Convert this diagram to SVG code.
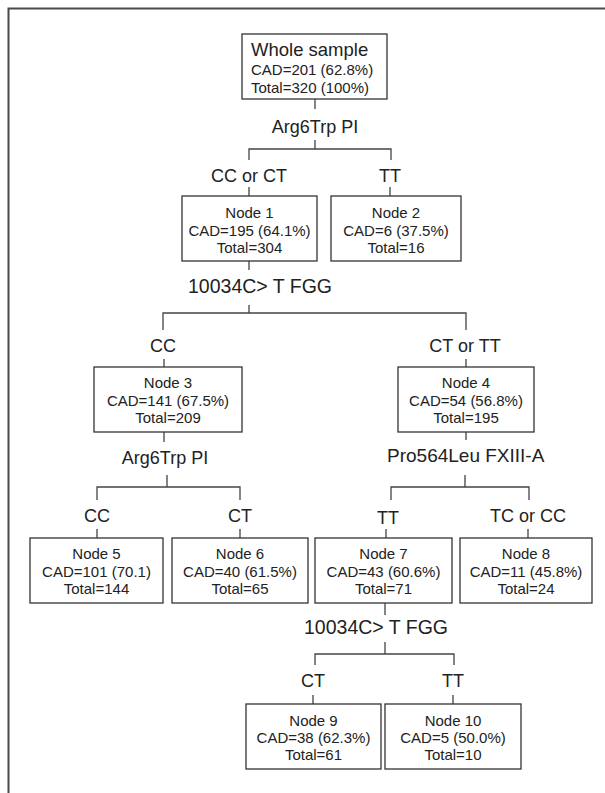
<svg xmlns="http://www.w3.org/2000/svg" width="605" height="793" viewBox="0 0 605 793">
<style>
.box{fill:#fff;stroke:#333;stroke-width:1.3}
.ln{fill:none;stroke:#444;stroke-width:1.3}
.t{font-family:"Liberation Sans",Arial,sans-serif;font-size:15px;fill:#222;text-anchor:middle}
.lab{font-family:"Liberation Sans",Arial,sans-serif;font-size:18px;fill:#222;text-anchor:middle}
.wide{font-size:19.5px;text-anchor:start}
.big{font-family:"Liberation Sans",Arial,sans-serif;font-size:18.5px;fill:#222}
.frame{fill:none;stroke:#4a4a4a;stroke-width:2}
</style>
<rect width="605" height="793" fill="#fff"/>
<path class="frame" d="M8.5,793 V8.5 H605"/>

<g id="connectors">
  <path class="ln" d="M315,99 V109 M315,140 V149 M249,160 V149 H391 V160 M249,187 V196 M390,187 V196"/>
  <path class="ln" d="M249,261 V270 M249,305 V313 M163,330 V313 H466 V330 M164,359 V367 M466,359 V367"/>
  <path class="ln" d="M164,432 V442 M167,475 V487 M97,500 V487 H240 V500 M97,529 V538 M240,529 V538"/>
  <path class="ln" d="M466,432 V440 M465,475 V487 M391,500 V487 H529 V500 M386,529 V538 M528,529 V538"/>
  <path class="ln" d="M385,603 V615 M385,642 V654 M315,665 V654 H454 V665 M313,695 V704 M453,695 V704"/>
</g>

<g id="labels">
  <text class="lab" x="315" y="133">Arg6Trp PI</text>
  <text class="lab" x="249" y="182">CC or CT</text>
  <text class="lab" x="390" y="182">TT</text>
  <text class="lab wide" x="188" y="293">10034C&gt; T FGG</text>
  <text class="lab" x="163" y="352">CC</text>
  <text class="lab" x="465" y="352">CT or TT</text>
  <text class="lab" x="165" y="464">Arg6Trp PI</text>
  <text class="lab wide" x="387" y="462" style="font-size:19px">Pro564Leu FXIII-A</text>
  <text class="lab" x="97" y="522">CC</text>
  <text class="lab" x="240" y="522">CT</text>
  <text class="lab" x="388" y="524">TT</text>
  <text class="lab" x="528" y="522">TC or CC</text>
  <text class="lab wide" x="304" y="634">10034C&gt; T FGG</text>
  <text class="lab" x="313" y="687">CT</text>
  <text class="lab" x="453" y="687">TT</text>
</g>

<g id="root">
  <rect class="box" x="242" y="34" width="145" height="65"/>
  <text class="big" x="251" y="56">Whole sample</text>
  <text class="t" x="251" y="75" style="text-anchor:start">CAD=201 (62.8%)</text>
  <text class="t" x="251" y="93" style="text-anchor:start">Total=320 (100%)</text>
</g>

<g id="node1">
  <rect class="box" x="182" y="196" width="135" height="65"/>
  <text class="t" x="249.5" y="218">Node 1</text>
  <text class="t" x="249.5" y="236">CAD=195 (64.1%)</text>
  <text class="t" x="249.5" y="253">Total=304</text>
</g>
<g id="node2">
  <rect class="box" x="331" y="196" width="130" height="65"/>
  <text class="t" x="396" y="218">Node 2</text>
  <text class="t" x="396" y="236">CAD=6 (37.5%)</text>
  <text class="t" x="396" y="253">Total=16</text>
</g>
<g id="node3">
  <rect class="box" x="94" y="367" width="148" height="65"/>
  <text class="t" x="168" y="388">Node 3</text>
  <text class="t" x="168" y="406">CAD=141 (67.5%)</text>
  <text class="t" x="168" y="423">Total=209</text>
</g>
<g id="node4">
  <rect class="box" x="398" y="367" width="136" height="65"/>
  <text class="t" x="466" y="388">Node 4</text>
  <text class="t" x="466" y="406">CAD=54 (56.8%)</text>
  <text class="t" x="466" y="423">Total=195</text>
</g>
<g id="node5">
  <rect class="box" x="30" y="538" width="133" height="65"/>
  <text class="t" x="96.5" y="559">Node 5</text>
  <text class="t" x="96.5" y="577">CAD=101 (70.1)</text>
  <text class="t" x="96.5" y="594">Total=144</text>
</g>
<g id="node6">
  <rect class="box" x="172" y="538" width="136" height="65"/>
  <text class="t" x="240" y="559">Node 6</text>
  <text class="t" x="240" y="577">CAD=40 (61.5%)</text>
  <text class="t" x="240" y="594">Total=65</text>
</g>
<g id="node7">
  <rect class="box" x="315" y="538" width="137" height="65"/>
  <text class="t" x="383.5" y="559">Node 7</text>
  <text class="t" x="383.5" y="577">CAD=43 (60.6%)</text>
  <text class="t" x="383.5" y="594">Total=71</text>
</g>
<g id="node8">
  <rect class="box" x="460" y="538" width="132" height="65"/>
  <text class="t" x="526" y="559">Node 8</text>
  <text class="t" x="526" y="577">CAD=11 (45.8%)</text>
  <text class="t" x="526" y="594">Total=24</text>
</g>
<g id="node9">
  <rect class="box" x="246" y="704" width="135" height="65"/>
  <text class="t" x="313.5" y="726">Node 9</text>
  <text class="t" x="313.5" y="743">CAD=38 (62.3%)</text>
  <text class="t" x="313.5" y="760">Total=61</text>
</g>
<g id="node10">
  <rect class="box" x="385" y="704" width="136" height="65"/>
  <text class="t" x="453" y="726">Node 10</text>
  <text class="t" x="453" y="743">CAD=5 (50.0%)</text>
  <text class="t" x="453" y="760">Total=10</text>
</g>
</svg>
